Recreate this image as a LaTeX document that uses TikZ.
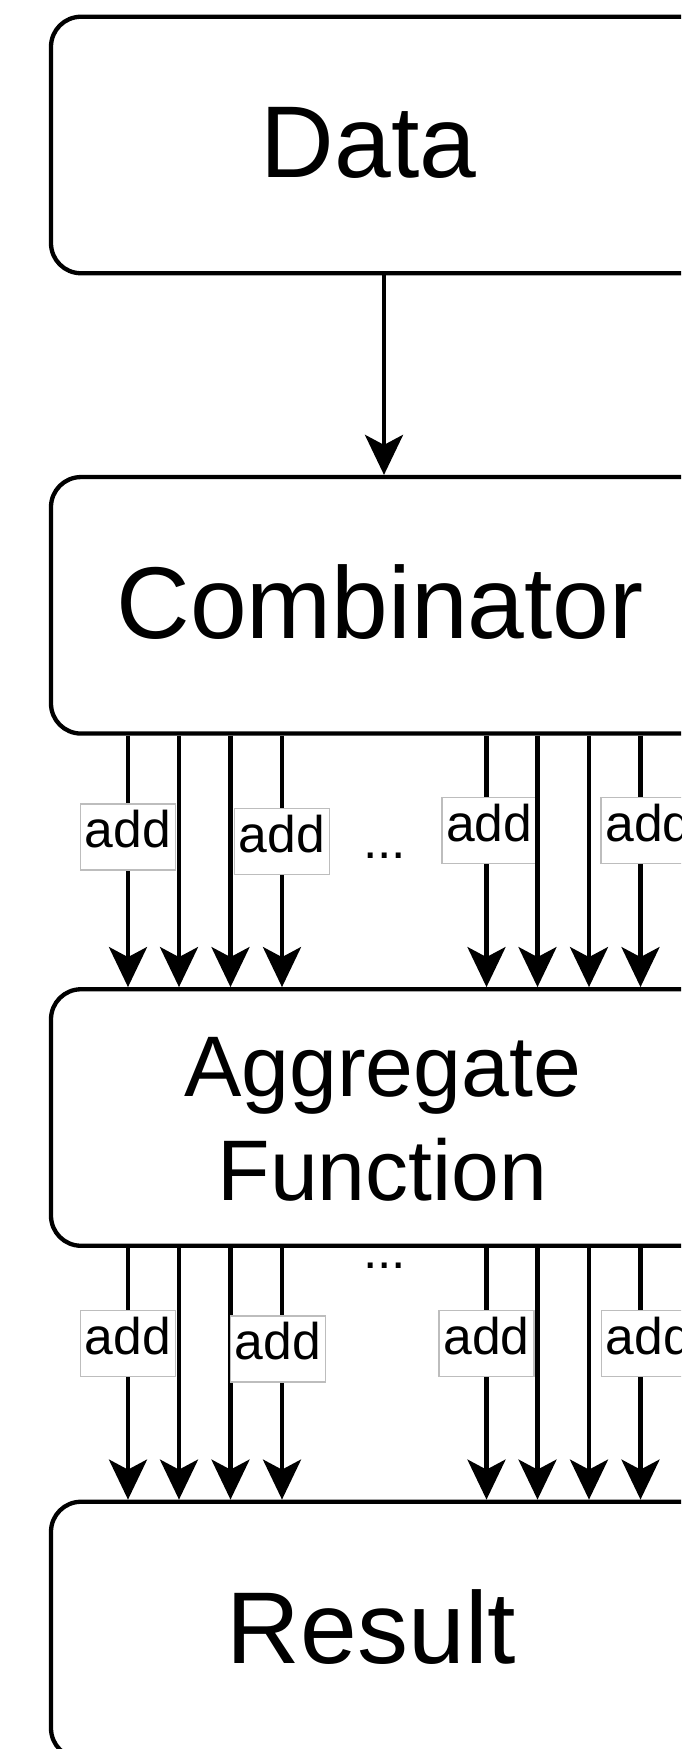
\documentclass[tikz,border=0pt]{standalone}
\usepackage{fontspec}
\setmainfont{Liberation Sans}
\usetikzlibrary{arrows.meta}
\definecolor{lblborder}{HTML}{BDBDBD}
\begin{document}
\begin{tikzpicture}[x=0.5pt,y=-0.5pt,
  box/.style={draw=black, line width=2.15pt, rounded corners=15pt,
    minimum width=333pt, minimum height=128.25pt, inner sep=0pt, fill=white},
  big/.style={font=\fontsize{51pt}{61pt}\selectfont, inner sep=0pt, anchor=base},
  arr/.style={draw=black, line width=2.15pt,
    -{Stealth[length=20pt,width=19pt,inset=5pt]}},
  lbl/.style={draw=lblborder, line width=0.75pt, fill=white,
    font=\fontsize{25.8pt}{31pt}\selectfont, inner xsep=2.25pt, inner ysep=0pt,
    minimum height=33pt, text height=18.6pt, text depth=8pt},
  dots/.style={font=\fontsize{25.8pt}{31pt}\selectfont, inner sep=0pt, anchor=base}
]
\useasboundingbox (0,0) rectangle (681,1749);
\clip (0,0) rectangle (681,1749);

% boxes
\node[box] (data) at (384,145) {};
\node[box] (comb) at (384,605.3) {};
\node[box] (agg)  at (384,1117.5) {};
\node[box] (res)  at (384,1630) {};

% box titles
\node[big] (datatxt) at (368.6,178) {Data};
\node[big] (combtxt) at (380,638) {Combinator};
\node[font=\fontsize{43pt}{52pt}\selectfont, align=center, inner sep=0pt]
  (aggtxt) at (382.5,1119.2) {Aggregate\\Function};
\node[big] (restxt) at (371.5,1663) {Result};

% data -> combinator
\draw[arr] (data) -- (comb);

% combinator -> aggregate function
\draw[arr] ([xshift=-128pt]comb.south) -- node[lbl,pos=0.403] (ua1) {add} ([xshift=-128pt]agg.north);
\draw[arr] ([xshift=-102.5pt]comb.south) -- ([xshift=-102.5pt]agg.north);
\draw[arr] ([xshift=-76.75pt]comb.south) -- ([xshift=-76.75pt]agg.north);
\draw[arr] ([xshift=-51pt]comb.south) -- node[lbl,pos=0.421] (ua2) {add} ([xshift=-51pt]agg.north);
\draw[arr] ([xshift=51.25pt]comb.south) -- node[lbl,pos=0.377,xshift=1.4pt] (ua3) {add} ([xshift=51.25pt]agg.north);
\draw[arr] ([xshift=76.75pt]comb.south) -- ([xshift=76.75pt]agg.north);
\draw[arr] ([xshift=102.5pt]comb.south) -- ([xshift=102.5pt]agg.north);
\draw[arr] ([xshift=128.25pt]comb.south) -- node[lbl,pos=0.377,xshift=4pt] (ua4) {add} ([xshift=128.25pt]agg.north);
\node[dots] (udots) at (384.5,858) {...};

% aggregate function -> result
\draw[arr] ([xshift=-128pt]agg.south) -- node[lbl,pos=0.38] (la1) {add} ([xshift=-128pt]res.north);
\draw[arr] ([xshift=-102.5pt]agg.south) -- ([xshift=-102.5pt]res.north);
\draw[arr] ([xshift=-76.75pt]agg.south) -- ([xshift=-76.75pt]res.north);
\draw[arr] ([xshift=-51pt]agg.south) -- node[lbl,pos=0.402,xshift=-2pt] (la2) {add} ([xshift=-51pt]res.north);
\draw[arr] ([xshift=51.25pt]agg.south) -- node[lbl,pos=0.38] (la3) {add} ([xshift=51.25pt]res.north);
\draw[arr] ([xshift=76.75pt]agg.south) -- ([xshift=76.75pt]res.north);
\draw[arr] ([xshift=102.5pt]agg.south) -- ([xshift=102.5pt]res.north);
\draw[arr] ([xshift=128.25pt]agg.south) -- node[lbl,pos=0.38,xshift=4.25pt] (la4) {add} ([xshift=128.25pt]res.north);
\node[dots] (ldots) at (384.5,1268) {...};
\end{tikzpicture}
\end{document}
